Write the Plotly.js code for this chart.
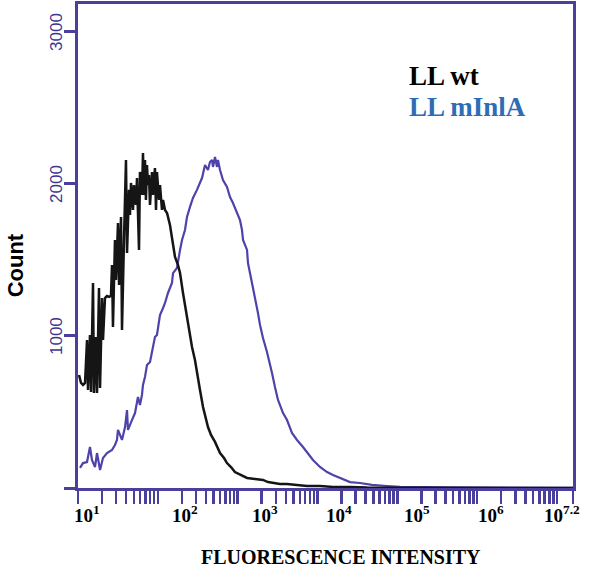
<!DOCTYPE html>
<html>
<head>
<meta charset="utf-8">
<script src="https://cdn.plot.ly/plotly-3.0.1.min.js"></script>
<style>html,body{margin:0;padding:0;background:#fff;}#chart{width:600px;height:567px;}</style>
</head>
<body>
<div id="chart"></div>
<script>
// log10(fluorescence intensity) of each histogram channel, and counts
var wtLogX = [1.013,1.038,1.063,1.088,1.113,1.125,1.150,1.163,1.188,1.200,1.225,1.238,1.263,1.276,1.301,1.313,1.338,1.363,1.388,1.413,1.426,1.438,1.463,1.476,1.501,1.514,1.539,1.551,1.576,1.589,1.601,1.614,1.639,1.651,1.664,1.689,1.701,1.726,1.739,1.764,1.776,1.801,1.814,1.826,1.839,1.851,1.864,1.876,1.889,1.902,1.927,1.939,1.964,1.977,1.989,2.015,2.027,2.052,2.065,2.090,2.115,2.152,2.177,2.215,2.253,2.278,2.315,2.340,2.365,2.403,2.428,2.465,2.490,2.528,2.566,2.591,2.628,2.666,2.716,2.779,2.829,2.866,2.916,2.966,3.042,3.117,3.217,3.317,3.380,3.430,3.530,3.618,3.743,3.868,4.031,4.194,4.407,4.620,5.033,5.659,6.285,7.200];
var wtCount = [743,691,678,691,974,645,1007,632,1349,625,993,625,1316,658,1250,974,1250,1263,1257,1263,1467,1059,1632,1368,1743,1336,1783,1039,1632,1895,2158,1546,1961,1796,2007,1829,1993,1862,2039,1566,2079,1928,2204,1928,2158,1895,2125,1993,2059,1862,2079,1928,2105,1829,2079,1895,1993,1829,1895,1829,1809,1730,1651,1520,1467,1414,1283,1204,1105,1007,928,842,757,645,533,480,401,349,303,230,197,164,138,105,86,66,59,53,39,33,26,26,20,13,13,7,7,3,2,1,1,0];

var mLogX = [1.025,1.063,1.113,1.150,1.175,1.213,1.238,1.276,1.313,1.363,1.426,1.463,1.488,1.501,1.551,1.589,1.614,1.626,1.676,1.714,1.751,1.776,1.801,1.814,1.839,1.864,1.902,1.927,1.964,1.989,2.027,2.065,2.090,2.127,2.177,2.190,2.240,2.278,2.303,2.340,2.365,2.403,2.440,2.490,2.528,2.553,2.591,2.628,2.653,2.678,2.691,2.716,2.741,2.753,2.779,2.816,2.866,2.904,2.941,2.991,3.029,3.054,3.067,3.117,3.129,3.154,3.192,3.217,3.254,3.280,3.317,3.367,3.405,3.430,3.467,3.505,3.568,3.618,3.680,3.743,3.818,3.881,3.943,4.031,4.119,4.194,4.282,4.407,4.532,4.620,4.682,4.870,5.033,5.659,6.285,7.200];
var mCount = [132,164,171,270,184,138,230,118,197,230,250,283,316,382,316,401,513,382,447,493,599,546,612,678,730,809,829,888,993,1007,1138,1184,1217,1283,1349,1414,1447,1566,1632,1697,1783,1849,1908,1961,2007,2039,2125,2092,2145,2158,2112,2178,2112,2158,2092,2026,1980,1914,1875,1809,1763,1697,1632,1566,1480,1414,1322,1257,1151,1072,987,895,822,757,664,579,493,447,362,316,270,230,184,138,105,86,66,39,33,26,20,13,7,4,2,1];

var seriesNames = ['LL wt', 'LL mInlA'];
var yTickVals = [0, 1000, 2000, 3000];
var yTickText = ['1000', '2000', '3000'];
var yTickTextVals = [1000, 2000, 3000];
var xDecadeLabels = ['10<sup>1</sup>','10<sup>2</sup>','10<sup>3</sup>','10<sup>4</sup>','10<sup>5</sup>','10<sup>6</sup>','10<sup>7.2</sup>'];
var xLabelPos = [1.113, 2.340, 3.342, 4.263, 5.246, 6.167, 7.068];
var xTitle = 'FLUORESCENCE INTENSITY';
var yTitle = 'Count';

var AX = '#4b3f9e';

function pow10(a){ return a.map(function(v){ return Math.pow(10, v); }); }

// minor/major tick positions on the log axis
var xTicks = [];
for (var d = 1; d <= 7; d++) {
  for (var k = 1; k <= 9; k++) {
    var v = k * Math.pow(10, d);
    if (Math.log10(v) <= 7.2 + 1e-9) xTicks.push(v);
  }
}
xTicks.push(Math.pow(10, 7.2));

var traces = [
  {x: pow10(mLogX), y: mCount, type: 'scatter', mode: 'lines', name: seriesNames[1],
   line: {color: '#4d43aa', width: 2.2}, hoverinfo: 'skip'},
  {x: pow10(wtLogX), y: wtCount, type: 'scatter', mode: 'lines', name: seriesNames[0],
   line: {color: '#151515', width: 2.5}, hoverinfo: 'skip'}
];

var annotations = [];
for (var i = 0; i < xDecadeLabels.length; i++) {
  annotations.push({x: xLabelPos[i], xref: 'x', y: 0, yref: 'paper', yanchor: 'middle', xanchor: 'center',
    yshift: -26, text: '<b>' + xDecadeLabels[i] + '</b>', showarrow: false,
    font: {family: 'Liberation Serif', size: 19, color: '#000'}});
}
for (var j = 0; j < yTickText.length; j++) {
  annotations.push({x: 0, xref: 'paper', y: yTickTextVals[j], yref: 'y', xanchor: 'center', yanchor: 'middle',
    xshift: -21, textangle: -90, text: yTickText[j], showarrow: false,
    font: {family: 'Liberation Sans', size: 17, color: '#3b3791'}});
}
annotations.push({x: 0.6646, xref: 'paper', y: 0.852, yref: 'paper', xanchor: 'left', yanchor: 'middle',
  text: '<b>' + seriesNames[0] + '</b>', showarrow: false, font: {family: 'Liberation Serif', size: 27, color: '#000'}});
annotations.push({x: 0.6646, xref: 'paper', y: 0.787, yref: 'paper', xanchor: 'left', yanchor: 'middle',
  text: '<b>' + seriesNames[1] + '</b>', showarrow: false, font: {family: 'Liberation Serif', size: 27, color: '#2f6cb6'}});
annotations.push({x: 0.531, xref: 'paper', y: 0, yref: 'paper', xanchor: 'center', yanchor: 'middle',
  yshift: -69, text: '<b>' + xTitle + '</b>', showarrow: false,
  font: {family: 'Liberation Serif', size: 20, color: '#000'}});
annotations.push({x: 0, xref: 'paper', y: 0.46, yref: 'paper', xanchor: 'center', yanchor: 'middle',
  xshift: -63, textangle: -90, text: '<b>' + yTitle + '</b>', showarrow: false,
  font: {family: 'Liberation Sans', size: 22, color: '#000'}});

var layout = {
  width: 600, height: 567,
  margin: {l: 78, r: 27, t: 4, b: 79},
  paper_bgcolor: '#fff', plot_bgcolor: '#fff',
  showlegend: false,
  font: {family: 'Liberation Sans'},
  xaxis: {
    type: 'log', range: [1, 7.2], autorange: false,
    showline: true, linecolor: AX, linewidth: 3, mirror: true,
    ticks: 'outside', ticklen: 13, tickwidth: 2.5, tickcolor: AX,
    tickmode: 'array', tickvals: xTicks, showticklabels: false,
    showgrid: false, zeroline: false
  },
  yaxis: {
    range: [0, 3184], autorange: false,
    showline: true, linecolor: AX, linewidth: 3, mirror: true,
    ticks: 'outside', ticklen: 11, tickwidth: 3, tickcolor: AX,
    tickmode: 'array', tickvals: yTickVals, showticklabels: false,
    showgrid: false, zeroline: false
  },
  annotations: annotations
};

Plotly.newPlot('chart', traces, layout, {staticPlot: true, displayModeBar: false});
</script>
</body>
</html>
